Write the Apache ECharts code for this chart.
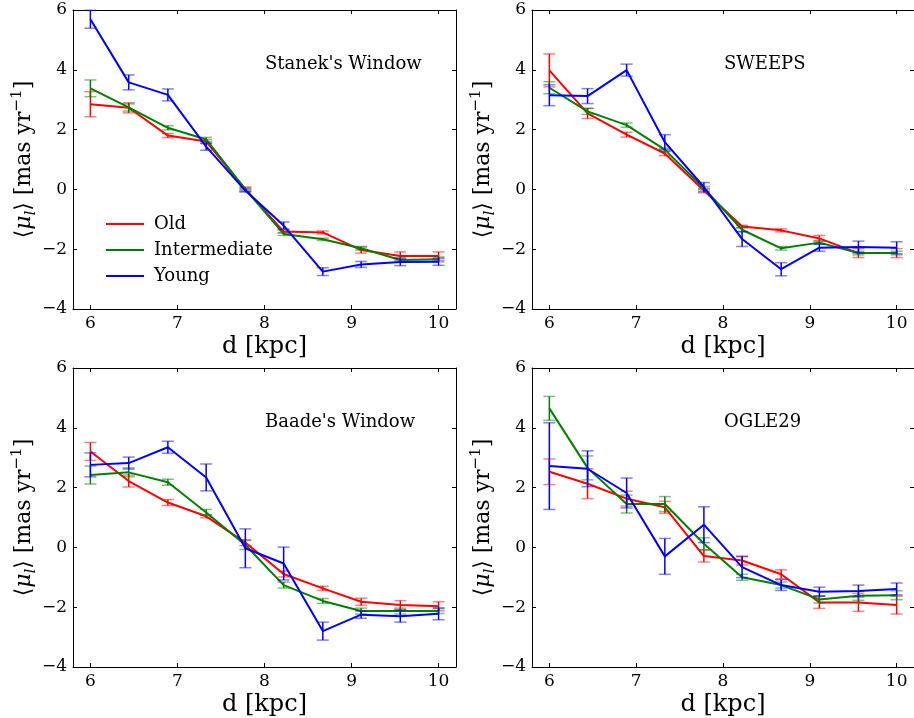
<!DOCTYPE html>
<html>
<head>
<meta charset="utf-8">
<script src="https://cdn.jsdelivr.net/npm/echarts@6/dist/echarts.min.js"></script>
<style>
html,body{margin:0;padding:0;background:#fff;}
#chart{width:914px;height:718px;}
</style>
</head>
<body>
<div id="chart"></div>
<script>
// ---------------- DATA ----------------
const dist = [6.0, 6.44, 6.89, 7.33, 7.78, 8.22, 8.67, 9.11, 9.56, 10.0];
const xTicks = [6, 7, 8, 9, 10];
const fields = ["Stanek's Window", "SWEEPS", "Baade's Window", "OGLE29"];
const groupNames = ["Old", "Intermediate", "Young"];

const stanekOld        = [2.85, 2.73, 1.80, 1.60, 0.01, -1.41, -1.44, -2.03, -2.23, -2.23];
const stanekOldErr     = [0.42, 0.17, 0.07, 0.07, 0.07, 0.05, 0.05, 0.10, 0.14, 0.14];
const stanekInt        = [3.38, 2.74, 2.06, 1.67, 0.00, -1.49, -1.67, -1.97, -2.36, -2.34];
const stanekIntErr     = [0.28, 0.12, 0.07, 0.07, 0.05, 0.05, 0.04, 0.06, 0.08, 0.08];
const stanekYoung      = [5.69, 3.58, 3.16, 1.43, -0.04, -1.21, -2.75, -2.51, -2.43, -2.42];
const stanekYoungErr   = [0.30, 0.25, 0.20, 0.12, 0.05, 0.12, 0.13, 0.10, 0.12, 0.12];

const sweepsOld        = [3.98, 2.54, 1.83, 1.20, -0.04, -1.24, -1.37, -1.64, -2.13, -2.13];
const sweepsOldErr     = [0.55, 0.17, 0.08, 0.07, 0.07, 0.04, 0.05, 0.10, 0.15, 0.15];
const sweepsInt        = [3.40, 2.61, 2.15, 1.33, 0.04, -1.35, -1.97, -1.78, -2.13, -2.13];
const sweepsIntErr     = [0.20, 0.10, 0.07, 0.05, 0.05, 0.07, 0.06, 0.06, 0.06, 0.06];
const sweepsYoung      = [3.15, 3.12, 3.99, 1.58, 0.08, -1.66, -2.67, -1.95, -1.93, -1.95];
const sweepsYoungErr   = [0.35, 0.25, 0.20, 0.25, 0.15, 0.25, 0.22, 0.12, 0.20, 0.20];

const baadeOld         = [3.21, 2.22, 1.50, 1.04, 0.16, -0.89, -1.37, -1.82, -1.93, -1.97];
const baadeOldErr      = [0.30, 0.20, 0.10, 0.05, 0.10, 0.10, 0.07, 0.12, 0.15, 0.15];
const baadeInt         = [2.42, 2.51, 2.18, 1.17, 0.08, -1.26, -1.79, -2.13, -2.13, -2.13];
const baadeIntErr      = [0.30, 0.15, 0.10, 0.10, 0.15, 0.10, 0.08, 0.10, 0.10, 0.08];
const baadeYoung       = [2.76, 2.82, 3.35, 2.34, -0.03, -0.54, -2.80, -2.25, -2.30, -2.22];
const baadeYoungErr    = [0.40, 0.20, 0.20, 0.45, 0.65, 0.55, 0.30, 0.12, 0.20, 0.20];

const ogleOld          = [2.53, 2.13, 1.63, 1.34, -0.29, -0.44, -0.90, -1.84, -1.84, -1.93];
const ogleOldErr       = [0.43, 0.50, 0.25, 0.20, 0.20, 0.15, 0.15, 0.20, 0.30, 0.30];
const ogleInt          = [4.65, 2.66, 1.45, 1.45, 0.12, -1.00, -1.26, -1.74, -1.62, -1.60];
const ogleIntErr       = [0.40, 0.40, 0.30, 0.25, 0.20, 0.10, 0.10, 0.12, 0.15, 0.15];
const ogleYoung        = [2.72, 2.63, 1.82, -0.30, 0.76, -0.66, -1.26, -1.48, -1.46, -1.39];
const ogleYoungErr     = [1.45, 0.60, 0.50, 0.60, 0.60, 0.35, 0.18, 0.15, 0.20, 0.20];

const panelValues = [
  [stanekOld, stanekInt, stanekYoung],
  [sweepsOld, sweepsInt, sweepsYoung],
  [baadeOld, baadeInt, baadeYoung],
  [ogleOld, ogleInt, ogleYoung]
];
const panelErrors = [
  [stanekOldErr, stanekIntErr, stanekYoungErr],
  [sweepsOldErr, sweepsIntErr, sweepsYoungErr],
  [baadeOldErr, baadeIntErr, baadeYoungErr],
  [ogleOldErr, ogleIntErr, ogleYoungErr]
];

// ---------------- STYLE / LAYOUT ----------------
const colors = ['#ff0000', '#008000', '#0000ff'];
const capColors = ['rgba(255,0,0,0.5)', 'rgba(0,128,0,0.5)', 'rgba(0,0,255,0.5)'];
const FONT = 'DejaVu Serif';
const grids = [
  {left: 73, top: 10, width: 383, height: 299},
  {left: 532, top: 10, width: 383, height: 299},
  {left: 73, top: 368, width: 383, height: 299},
  {left: 532, top: 368, width: 383, height: 299}
];
const fieldPos = [[265, 64], [724, 64], [265, 422], [724, 422]];

const fmt = v => String(v).replace('-', '\u2212');

const xAxes = [], yAxes = [], series = [], graphics = [];
grids.forEach((g, i) => {
  const base = {
    type: 'value', gridIndex: i, min: 5.8, max: 10.2,
    splitLine: {show: false},
    axisLine: {show: true, onZero: false, lineStyle: {color: '#000', width: 1}},
    axisTick: {show: true, inside: true, length: 4, customValues: xTicks, lineStyle: {color: '#000'}}
  };
  xAxes.push(Object.assign({}, base, {
    position: 'bottom',
    axisLabel: {show: true, customValues: xTicks, margin: 6, color: '#000', fontFamily: FONT, fontSize: 17, formatter: fmt},
    name: 'd [kpc]', nameLocation: 'middle', nameGap: 26,
    nameTextStyle: {fontFamily: FONT, fontSize: 24, color: '#000'}
  }));
  xAxes.push(Object.assign({}, base, {position: 'top', axisLabel: {show: false}}));
  const ybase = {
    type: 'value', gridIndex: i, min: -4, max: 6, interval: 2,
    splitLine: {show: false},
    axisLine: {show: true, onZero: false, lineStyle: {color: '#000', width: 1}},
    axisTick: {show: true, inside: true, length: 4, lineStyle: {color: '#000'}}
  };
  yAxes.push(Object.assign({}, ybase, {
    position: 'left',
    axisLabel: {show: true, margin: 6, color: '#000', fontFamily: FONT, fontSize: 17, formatter: fmt},
    name: '{t|\u27e8}{m|\u03bc}{s|l}{t|\u27e9 [mas yr}{p|\u22121}{t|]}',
    nameLocation: 'middle', nameGap: 33,
    nameTextStyle: {
      fontFamily: FONT, fontSize: 22, color: '#000',
      rich: {
        t: {fontFamily: FONT, fontSize: 22, color: '#000', lineHeight: 28},
        m: {fontFamily: FONT, fontSize: 22, fontStyle: 'italic', color: '#000', lineHeight: 28},
        s: {fontFamily: FONT, fontSize: 14, fontStyle: 'italic', color: '#000', verticalAlign: 'bottom', lineHeight: 14},
        p: {fontFamily: FONT, fontSize: 15, color: '#000', verticalAlign: 'top', lineHeight: 15}
      }
    }
  }));
  yAxes.push(Object.assign({}, ybase, {position: 'right', axisLabel: {show: false}}));

  for (let k = 0; k < 3; k++) {
    const vals = panelValues[i][k];
    const errs = panelErrors[i][k];
    series.push({
      type: 'custom', name: groupNames[k] + ' err', xAxisIndex: 2 * i, yAxisIndex: 2 * i,
      encode: {x: 0, y: [1, 2]}, z: 2 + k,
      data: dist.map((d, j) => [d, vals[j] - errs[j], vals[j] + errs[j]]),
      renderItem: (params, api) => {
        const x = api.value(0);
        const top = api.coord([x, api.value(2)]);
        const bot = api.coord([x, api.value(1)]);
        const cw = 6;
        return {
          type: 'group',
          children: [
            {type: 'line', shape: {x1: top[0], y1: top[1], x2: bot[0], y2: bot[1]}, style: {stroke: colors[k], lineWidth: 1.5}},
            {type: 'line', shape: {x1: top[0] - cw, y1: top[1], x2: top[0] + cw, y2: top[1]}, style: {stroke: capColors[k], lineWidth: 1.5}},
            {type: 'line', shape: {x1: bot[0] - cw, y1: bot[1], x2: bot[0] + cw, y2: bot[1]}, style: {stroke: capColors[k], lineWidth: 1.5}}
          ]
        };
      }
    });
    series.push({
      type: 'line', name: groupNames[k], xAxisIndex: 2 * i, yAxisIndex: 2 * i,
      data: dist.map((d, j) => [d, vals[j]]),
      symbol: 'none', z: 2 + k,
      lineStyle: {color: colors[k], width: 2},
      itemStyle: {color: colors[k]}
    });
  }
  graphics.push({
    type: 'text', x: fieldPos[i][0], y: fieldPos[i][1],
    style: {text: fields[i], font: '18px "DejaVu Serif"', fill: '#000', align: 'left', verticalAlign: 'middle'}
  });
});

const chart = echarts.init(document.getElementById('chart'), null, {renderer: 'canvas'});
chart.setOption({
  animation: false,
  backgroundColor: '#fff',
  grid: grids.map(g => Object.assign({containLabel: false}, g)),
  xAxis: xAxes,
  yAxis: yAxes,
  legend: {
    data: groupNames, orient: 'vertical', left: 101, top: 210,
    icon: 'rect', itemWidth: 38, itemHeight: 2, itemGap: 8,
    textStyle: {fontFamily: FONT, fontSize: 18, color: '#000', padding: [0, 0, 0, 5]}
  },
  graphic: graphics,
  series: series
});
</script>
</body>
</html>
